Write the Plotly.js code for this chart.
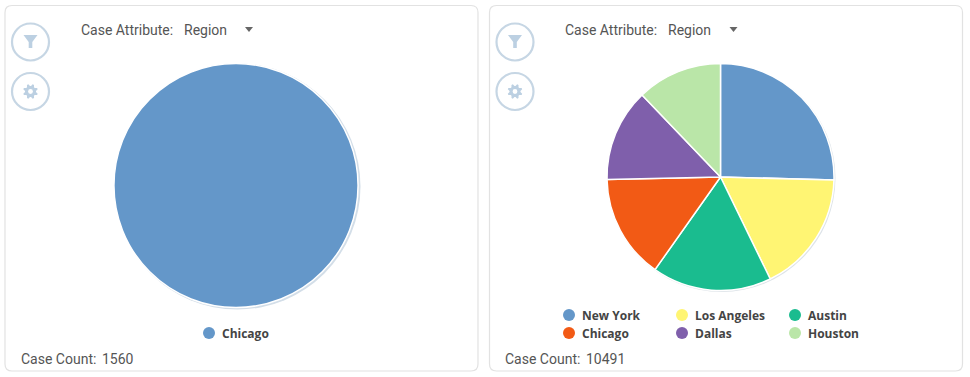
<!DOCTYPE html>
<html>
<head>
<meta charset="utf-8">
<script src="https://cdn.plot.ly/plotly-3.0.1.min.js"></script>
<style>html,body{margin:0;padding:0;background:#fff;overflow:hidden}#c{width:970px;height:377px}</style>
</head>
<body>
<div id="c"></div>
<script>
// Data
const regionsRight = ["New York","Los Angeles","Austin","Chicago","Dallas","Houston"];
const valuesRight = [2668,1820,1785,1560,1384,1274];
const colorsRight = ["#6497C9","#FFF573","#1ABC8F","#F25A15","#7F5FAB","#BAE6A8"];
const regionsLeft = ["Chicago"];
const valuesLeft = [1560];
const colorsLeft = ["#6497C9"];
const attributeLabel = "Case Attribute:";
const attributeValue = "Region";
const countLabel = "Case Count:";

const W = 970, H = 377;
const px = x => x / W, py = y => 1 - y / H;
const TEXT = "#555555";

function pieTrace(labels, values, colors, cx, cy, r) {
  return {
    type: "pie", labels, values, sort: false, direction: "clockwise", rotation: 0,
    marker: {colors, line: {color: "#ffffff", width: 1.5}},
    textinfo: "none", hoverinfo: "label+value+percent", showlegend: false,
    domain: {x: [px(cx - r), px(cx + r)], y: [py(cy + r), py(cy - r)]}
  };
}

const shapes = [], annotations = [];
function P(x, y) { return px(x).toFixed(5) + "," + py(y).toFixed(5); }
function pathShape(d, fill, lineColor, lineWidth) {
  shapes.push({type: "path", xref: "paper", yref: "paper", path: d, fillcolor: fill,
    line: {color: lineColor || "rgba(0,0,0,0)", width: lineWidth || 0}, layer: "below"});
}
function circle(cx, cy, r, fill, lineColor, lineWidth) {
  shapes.push({type: "circle", xref: "paper", yref: "paper", layer: "below",
    x0: px(cx - r), x1: px(cx + r), y0: py(cy + r), y1: py(cy - r),
    fillcolor: fill, line: {color: lineColor || "rgba(0,0,0,0)", width: lineWidth || 0}});
}
function card(x0, y0, x1, y1, rad) {
  const d = "M" + P(x0 + rad, y0) + " L" + P(x1 - rad, y0) + " Q" + P(x1, y0) + " " + P(x1, y0 + rad) +
    " L" + P(x1, y1 - rad) + " Q" + P(x1, y1) + " " + P(x1 - rad, y1) +
    " L" + P(x0 + rad, y1) + " Q" + P(x0, y1) + " " + P(x0, y1 - rad) +
    " L" + P(x0, y0 + rad) + " Q" + P(x0, y0) + " " + P(x0 + rad, y0) + " Z";
  pathShape(d, "#ffffff", "#e2e2e2", 1.2);
}
function text(x, y, t, size, family, color, weight) {
  annotations.push({xref: "paper", yref: "paper", x: px(x), y: py(y), xanchor: "left", yanchor: "middle",
    showarrow: false, text: t, align: "left", borderpad: 0,
    font: {family, size, color, weight: weight || 400}});
}
function funnel(cx, cy) {
  const d = "M" + P(cx - 7, cy - 6) + " L" + P(cx + 7, cy - 6) + " L" + P(cx + 1.8, cy + 1) +
    " L" + P(cx + 1.8, cy + 7) + " L" + P(cx - 1.8, cy + 7) + " L" + P(cx - 1.8, cy + 1) + " Z";
  pathShape(d, "#BCD0E2");
}
function gear(cx, cy) {
  const teeth = 8, pts = [];
  for (let i = 0; i < teeth * 4; i++) {
    const a = (i / (teeth * 4)) * 2 * Math.PI - Math.PI / 8 - 0.1;
    const rr = (i % 4 < 2) ? 7.5 : 5.5;
    pts.push(P(cx + rr * Math.cos(a), cy + rr * Math.sin(a)));
  }
  pathShape("M" + pts.join(" L") + " Z", "#BCD0E2");
  circle(cx, cy, 2.4, "#ffffff");
}
function chrome(ox, tx, count) {
  card(ox + 5, 5.5, ox + 478, 371, 7);
  circle(ox + 30.5, 42, 18.5, "#ffffff", "#C6D6E4", 2.2);
  circle(ox + 30.5, 91.5, 18.5, "#ffffff", "#C6D6E4", 2.2);
  funnel(ox + 30.5, 41);
  gear(ox + 30.5, 91.5);
  text(tx + 80, 30, attributeLabel, 14, "Roboto", TEXT);
  text(tx + 183, 30, attributeValue, 14, "Roboto", TEXT);
  pathShape("M" + P(ox + 245, 27) + " L" + P(ox + 253, 27) + " L" + P(ox + 249, 32) + " Z", "#666666");
  text(tx + 20, 359, countLabel, 14, "Roboto", TEXT);
  text(tx + 101, 359, String(count), 14, "Roboto", TEXT);
}
function legendItem(x, y, label, color) {
  circle(x, y, 6, color);
  text(x + 12, y, label, 12, "Open Sans", "#444444", 700);
}
const sum = a => a.reduce((s, v) => s + v, 0);

chrome(0, 0, sum(valuesLeft));
chrome(484.5, 484, sum(valuesRight));

// pie shadows
circle(237.5, 186.5, 123, "#D3DEE8");
circle(721.5, 178, 114, "#DDE3E8");

legendItem(209, 333, regionsLeft[0], colorsLeft[0]);
const colX = [569, 682, 795], rowY = [315, 333];
regionsRight.forEach((r, i) => legendItem(colX[i % 3], rowY[Math.floor(i / 3)], r, colorsRight[i]));

const data = [
  pieTrace(regionsLeft, valuesLeft, colorsLeft, 236, 185.5, 122),
  pieTrace(regionsRight, valuesRight, colorsRight, 720.5, 177, 113.5)
];
const layout = {
  width: W, height: H, margin: {l: 0, r: 0, t: 0, b: 0, pad: 0},
  paper_bgcolor: "#ffffff", shapes, annotations, showlegend: false
};
Plotly.newPlot("c", data, layout, {displayModeBar: false});
</script>
</body>
</html>
